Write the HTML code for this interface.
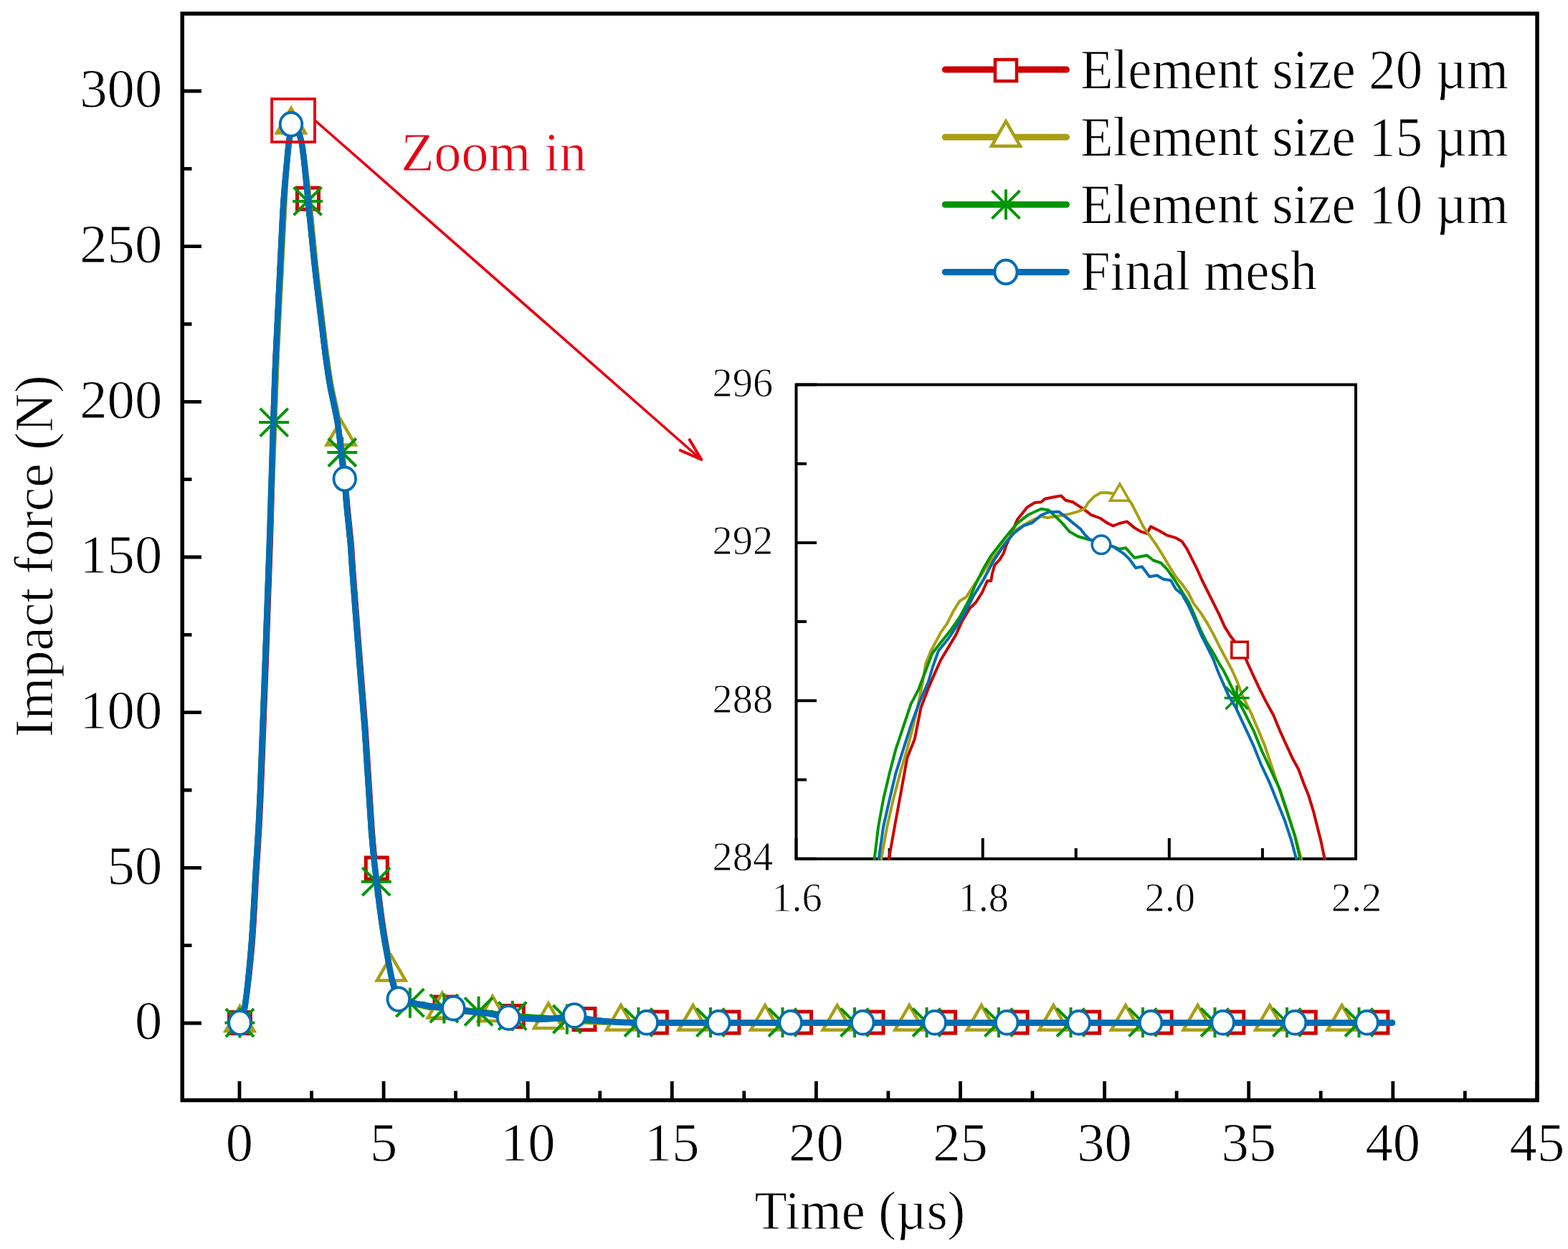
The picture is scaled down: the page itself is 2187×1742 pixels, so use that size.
<!DOCTYPE html><html><head><meta charset="utf-8"><title>Impact force vs time</title><style>html,body{margin:0;padding:0;background:#fff;}svg{display:block;}</style></head><body>
<svg width="2187" height="1742" viewBox="0 0 2187 1742" font-family="'Liberation Serif','Times New Roman',serif">
<style>text{stroke:#fff;stroke-width:0.9px;}</style>
<rect x="0" y="0" width="2187" height="1742" fill="#fff"/>
<defs><clipPath id="cm"><rect x="257" y="22" width="1884" height="1510"/></clipPath><clipPath id="ci"><rect x="1112.5" y="538.5" width="776.5" height="661"/></clipPath></defs>
<path clip-path="url(#cm)" fill="none" stroke-linejoin="round" stroke-linecap="round" d="M334.5,1426.5 C335.7,1422.6 338.8,1421.1 341.7,1403.0 C344.6,1384.9 349.0,1348.5 351.6,1317.8 C354.2,1287.1 355.4,1255.1 357.5,1218.8 C359.6,1182.5 360.9,1176.5 364.1,1100.0 C367.3,1023.5 374.0,845.2 376.8,760.0 C379.6,674.8 379.9,633.2 381.2,589.0 C382.5,544.8 383.2,527.9 384.7,494.7 C386.1,461.5 388.1,424.8 389.9,389.8 C391.6,354.8 393.5,311.9 395.2,284.9 C396.9,257.9 398.6,243.5 400.0,228.0 C401.4,212.5 402.4,200.5 403.9,192.0 C405.4,183.5 407.1,178.8 409.0,177.0 C410.9,175.2 412.9,176.8 415.0,181.5 C417.1,186.2 419.2,188.6 421.7,205.0 C424.2,221.4 426.9,252.6 429.8,280.2 C432.7,307.8 435.6,340.3 438.9,370.4 C442.2,400.5 447.3,440.3 449.7,460.6 C452.1,480.9 451.8,479.4 453.5,492.0 C455.2,504.6 457.1,519.3 460.0,535.9 C462.9,552.5 468.1,573.1 471.2,591.7 C474.3,610.3 477.0,634.9 478.7,647.6 C480.4,660.3 480.6,658.7 481.5,668.0 C482.4,677.3 482.9,688.3 484.3,703.5 C485.7,718.7 488.5,743.2 489.9,759.3 C491.3,775.4 490.9,776.6 492.7,800.0 C494.4,823.4 497.6,863.7 500.4,899.7 C503.2,935.7 506.6,972.8 509.7,1016.1 C512.8,1059.5 516.3,1124.8 519.0,1159.8 C521.7,1194.8 523.4,1204.7 525.8,1225.8 C528.2,1246.9 530.9,1268.7 533.4,1286.4 C535.9,1304.1 538.5,1317.9 541.0,1331.8 C543.5,1345.7 546.0,1359.7 548.6,1369.7 C551.2,1379.7 549.6,1386.6 556.5,1392.0 C563.4,1397.4 579.2,1399.8 590.0,1402.0 C600.8,1404.2 607.7,1403.3 621.0,1405.0 C634.3,1406.7 654.3,1409.9 670.0,1412.0 C685.7,1414.1 699.6,1416.2 715.4,1417.5 C731.2,1418.8 748.4,1419.3 765.0,1420.0 C781.6,1420.7 799.2,1420.6 815.0,1421.5 C830.8,1422.4 843.3,1424.7 860.0,1425.5 C876.7,1426.3 892.1,1426.3 915.4,1426.5 C938.7,1426.7 828.9,1426.5 1000.0,1426.5 C1171.1,1426.5 1785.0,1426.5 1942.0,1426.5" stroke="#CC0000" stroke-width="8"/>
<rect x="319.5" y="1411.5" width="30.0" height="30.0" fill="#fff" stroke="#CC0000" stroke-width="5"/>
<rect x="414.5" y="262.0" width="30.0" height="30.0" fill="#fff" stroke="#CC0000" stroke-width="5"/>
<rect x="510.3" y="1196.0" width="30.0" height="30.0" fill="#fff" stroke="#CC0000" stroke-width="5"/>
<rect x="606.0" y="1390.0" width="30.0" height="30.0" fill="#fff" stroke="#CC0000" stroke-width="5"/>
<rect x="700.4" y="1402.5" width="30.0" height="30.0" fill="#fff" stroke="#CC0000" stroke-width="5"/>
<rect x="800.0" y="1406.5" width="30.0" height="30.0" fill="#fff" stroke="#CC0000" stroke-width="5"/>
<rect x="900.4" y="1411.0" width="30.0" height="30.0" fill="#fff" stroke="#CC0000" stroke-width="5"/>
<rect x="1000.9" y="1411.0" width="30.0" height="30.0" fill="#fff" stroke="#CC0000" stroke-width="5"/>
<rect x="1101.5" y="1411.0" width="30.0" height="30.0" fill="#fff" stroke="#CC0000" stroke-width="5"/>
<rect x="1202.0" y="1411.0" width="30.0" height="30.0" fill="#fff" stroke="#CC0000" stroke-width="5"/>
<rect x="1302.6" y="1411.0" width="30.0" height="30.0" fill="#fff" stroke="#CC0000" stroke-width="5"/>
<rect x="1403.2" y="1411.0" width="30.0" height="30.0" fill="#fff" stroke="#CC0000" stroke-width="5"/>
<rect x="1503.7" y="1411.0" width="30.0" height="30.0" fill="#fff" stroke="#CC0000" stroke-width="5"/>
<rect x="1604.2" y="1411.0" width="30.0" height="30.0" fill="#fff" stroke="#CC0000" stroke-width="5"/>
<rect x="1704.8" y="1411.0" width="30.0" height="30.0" fill="#fff" stroke="#CC0000" stroke-width="5"/>
<rect x="1805.3" y="1411.0" width="30.0" height="30.0" fill="#fff" stroke="#CC0000" stroke-width="5"/>
<rect x="1905.9" y="1411.0" width="30.0" height="30.0" fill="#fff" stroke="#CC0000" stroke-width="5"/>
<path clip-path="url(#cm)" fill="none" stroke-linejoin="round" stroke-linecap="round" d="M334.5,1426.5 C335.7,1422.6 339.0,1421.1 341.7,1403.0 C344.4,1384.9 348.1,1348.5 350.6,1317.8 C353.1,1287.1 354.4,1255.1 356.5,1218.8 C358.6,1182.5 359.9,1176.5 363.1,1100.0 C366.3,1023.5 372.5,845.2 375.8,760.0 C379.1,674.8 381.0,633.2 382.7,589.0 C384.4,544.8 384.8,527.9 386.2,494.7 C387.6,461.5 389.6,424.8 391.4,389.8 C393.1,354.8 395.3,311.9 396.7,284.9 C398.1,257.9 398.8,243.5 400.0,228.0 C401.2,212.5 402.4,200.5 403.9,192.0 C405.4,183.5 407.1,178.8 409.0,177.0 C410.9,175.2 412.9,176.8 415.0,181.5 C417.1,186.2 419.0,188.6 421.7,205.0 C424.4,221.4 428.2,252.6 431.3,280.2 C434.4,307.8 437.1,340.3 440.4,370.4 C443.7,400.5 448.8,440.3 451.2,460.6 C453.6,480.9 453.3,479.4 455.0,492.0 C456.7,504.6 458.6,519.3 461.5,535.9 C464.4,552.5 469.8,573.1 472.7,591.7 C475.6,610.3 477.6,634.9 479.2,647.6 C480.8,660.3 481.3,658.7 482.0,668.0 C482.7,677.3 482.2,688.3 483.3,703.5 C484.4,718.7 487.5,743.2 488.9,759.3 C490.3,775.4 489.9,776.6 491.7,800.0 C493.4,823.4 496.6,863.7 499.4,899.7 C502.2,935.7 505.6,972.8 508.7,1016.1 C511.8,1059.5 515.3,1124.8 518.0,1159.8 C520.7,1194.8 522.4,1204.7 524.8,1225.8 C527.2,1246.9 529.9,1268.7 532.4,1286.4 C534.9,1304.1 537.5,1317.9 540.0,1331.8 C542.5,1345.7 545.3,1361.7 547.6,1369.7 C549.9,1377.7 548.6,1375.0 554.0,1380.0 C559.4,1385.0 569.5,1395.3 580.0,1400.0 C590.5,1404.7 605.1,1406.2 616.8,1408.0 C628.5,1409.8 638.3,1410.2 650.0,1411.0 C661.7,1411.8 674.5,1411.3 687.0,1412.5 C699.5,1413.7 712.0,1416.3 725.0,1418.0 C738.0,1419.7 750.7,1421.4 764.9,1422.5 C779.1,1423.6 793.1,1423.9 810.0,1424.5 C826.9,1425.1 834.3,1425.7 866.0,1426.0 C897.7,1426.3 820.7,1426.4 1000.0,1426.5 C1179.3,1426.6 1785.0,1426.5 1942.0,1426.5" stroke="#A89E14" stroke-width="8"/>
<path d="M334.5,1403.5 L314.6,1438.0 L354.4,1438.0 Z" fill="#fff" stroke="#A89E14" stroke-width="4.5" stroke-linejoin="miter"/>
<path d="M406.0,151.0 L386.1,185.5 L425.9,185.5 Z" fill="#fff" stroke="#A89E14" stroke-width="4.5" stroke-linejoin="miter"/>
<path d="M475.6,586.0 L455.7,620.5 L495.5,620.5 Z" fill="#fff" stroke="#A89E14" stroke-width="4.5" stroke-linejoin="miter"/>
<path d="M545.7,1333.0 L525.8,1367.5 L565.6,1367.5 Z" fill="#fff" stroke="#A89E14" stroke-width="4.5" stroke-linejoin="miter"/>
<path d="M616.8,1385.0 L596.9,1419.5 L636.7,1419.5 Z" fill="#fff" stroke="#A89E14" stroke-width="4.5" stroke-linejoin="miter"/>
<path d="M687.0,1389.5 L667.1,1424.0 L706.9,1424.0 Z" fill="#fff" stroke="#A89E14" stroke-width="4.5" stroke-linejoin="miter"/>
<path d="M764.9,1399.5 L745.0,1434.0 L784.8,1434.0 Z" fill="#fff" stroke="#A89E14" stroke-width="4.5" stroke-linejoin="miter"/>
<path d="M866.0,1402.0 L846.1,1436.5 L885.9,1436.5 Z" fill="#fff" stroke="#A89E14" stroke-width="4.5" stroke-linejoin="miter"/>
<path d="M966.6,1402.0 L946.6,1436.5 L986.5,1436.5 Z" fill="#fff" stroke="#A89E14" stroke-width="4.5" stroke-linejoin="miter"/>
<path d="M1067.1,1402.0 L1047.2,1436.5 L1087.0,1436.5 Z" fill="#fff" stroke="#A89E14" stroke-width="4.5" stroke-linejoin="miter"/>
<path d="M1167.7,1402.0 L1147.8,1436.5 L1187.6,1436.5 Z" fill="#fff" stroke="#A89E14" stroke-width="4.5" stroke-linejoin="miter"/>
<path d="M1268.2,1402.0 L1248.3,1436.5 L1288.2,1436.5 Z" fill="#fff" stroke="#A89E14" stroke-width="4.5" stroke-linejoin="miter"/>
<path d="M1368.8,1402.0 L1348.9,1436.5 L1388.7,1436.5 Z" fill="#fff" stroke="#A89E14" stroke-width="4.5" stroke-linejoin="miter"/>
<path d="M1469.4,1402.0 L1449.4,1436.5 L1489.3,1436.5 Z" fill="#fff" stroke="#A89E14" stroke-width="4.5" stroke-linejoin="miter"/>
<path d="M1569.9,1402.0 L1550.0,1436.5 L1589.8,1436.5 Z" fill="#fff" stroke="#A89E14" stroke-width="4.5" stroke-linejoin="miter"/>
<path d="M1670.5,1402.0 L1650.6,1436.5 L1690.4,1436.5 Z" fill="#fff" stroke="#A89E14" stroke-width="4.5" stroke-linejoin="miter"/>
<path d="M1771.0,1402.0 L1751.1,1436.5 L1791.0,1436.5 Z" fill="#fff" stroke="#A89E14" stroke-width="4.5" stroke-linejoin="miter"/>
<path d="M1871.6,1402.0 L1851.7,1436.5 L1891.5,1436.5 Z" fill="#fff" stroke="#A89E14" stroke-width="4.5" stroke-linejoin="miter"/>
<path clip-path="url(#cm)" fill="none" stroke-linejoin="round" stroke-linecap="round" d="M334.5,1426.5 C335.7,1422.6 339.0,1421.1 341.7,1403.0 C344.4,1384.9 348.1,1348.5 350.6,1317.8 C353.1,1287.1 354.4,1255.1 356.5,1218.8 C358.6,1182.5 359.9,1176.5 363.1,1100.0 C366.3,1023.5 372.8,845.2 375.8,760.0 C378.8,674.8 379.7,633.2 381.2,589.0 C382.7,544.8 383.2,527.9 384.7,494.7 C386.1,461.5 388.1,424.8 389.9,389.8 C391.6,354.8 393.5,311.9 395.2,284.9 C396.9,257.9 398.6,243.5 400.0,228.0 C401.4,212.5 402.4,200.5 403.9,192.0 C405.4,183.5 407.1,178.8 409.0,177.0 C410.9,175.2 412.9,176.8 415.0,181.5 C417.1,186.2 419.2,188.6 421.7,205.0 C424.2,221.4 426.9,252.6 429.8,280.2 C432.7,307.8 435.6,340.3 438.9,370.4 C442.2,400.5 447.3,440.3 449.7,460.6 C452.1,480.9 451.8,479.4 453.5,492.0 C455.2,504.6 457.1,519.3 460.0,535.9 C462.9,552.5 468.2,573.1 471.2,591.7 C474.1,610.3 476.1,634.9 477.7,647.6 C479.2,660.3 479.6,658.7 480.5,668.0 C481.4,677.3 481.9,688.3 483.3,703.5 C484.7,718.7 487.5,743.2 488.9,759.3 C490.3,775.4 489.9,776.6 491.7,800.0 C493.4,823.4 496.6,863.7 499.4,899.7 C502.2,935.7 505.6,972.8 508.7,1016.1 C511.8,1059.5 515.3,1124.8 518.0,1159.8 C520.7,1194.8 522.4,1204.7 524.8,1225.8 C527.2,1246.9 529.9,1268.7 532.4,1286.4 C534.9,1304.1 537.5,1317.9 540.0,1331.8 C542.5,1345.7 545.0,1359.5 547.6,1369.7 C550.2,1379.9 551.7,1388.2 555.7,1393.0 C559.8,1397.8 565.4,1397.0 571.9,1398.7 C578.4,1400.4 587.1,1401.7 595.0,1403.0 C602.9,1404.3 611.1,1405.5 619.4,1406.5 C627.7,1407.5 637.0,1408.3 645.0,1409.0 C653.0,1409.7 660.1,1410.0 667.6,1410.8 C675.1,1411.6 682.1,1413.0 690.0,1414.0 C697.9,1415.0 704.8,1416.0 714.8,1416.8 C724.8,1417.6 737.3,1418.2 750.0,1419.0 C762.7,1419.8 775.9,1420.6 790.9,1421.5 C805.9,1422.4 823.4,1423.7 840.0,1424.5 C856.6,1425.3 863.8,1426.0 890.5,1426.3 C917.2,1426.6 824.8,1426.5 1000.0,1426.5 C1175.2,1426.5 1785.0,1426.5 1942.0,1426.5" stroke="#009600" stroke-width="8"/>
<path d="M313.5,1426.5 H355.5 M334.5,1405.5 V1447.5 M315.0,1407.0 L354.0,1446.0 M315.0,1446.0 L354.0,1407.0" fill="none" stroke="#009600" stroke-width="4"/>
<path d="M361.2,589.1 H403.2 M382.2,568.1 V610.1 M362.7,569.6 L401.7,608.6 M362.7,608.6 L401.7,569.6" fill="none" stroke="#009600" stroke-width="4"/>
<path d="M408.1,280.7 H450.1 M429.1,259.7 V301.7 M409.6,261.2 L448.6,300.2 M409.6,300.2 L448.6,261.2" fill="none" stroke="#009600" stroke-width="4"/>
<path d="M456.3,631.0 H498.3 M477.3,610.0 V652.0 M457.8,611.5 L496.8,650.5 M457.8,650.5 L496.8,611.5" fill="none" stroke="#009600" stroke-width="4"/>
<path d="M503.8,1229.7 H545.8 M524.8,1208.7 V1250.7 M505.3,1210.2 L544.3,1249.2 M505.3,1249.2 L544.3,1210.2" fill="none" stroke="#009600" stroke-width="4"/>
<path d="M550.9,1398.7 H592.9 M571.9,1377.7 V1419.7 M552.4,1379.2 L591.4,1418.2 M552.4,1418.2 L591.4,1379.2" fill="none" stroke="#009600" stroke-width="4"/>
<path d="M598.4,1406.5 H640.4 M619.4,1385.5 V1427.5 M599.9,1387.0 L638.9,1426.0 M599.9,1426.0 L638.9,1387.0" fill="none" stroke="#009600" stroke-width="4"/>
<path d="M646.6,1410.8 H688.6 M667.6,1389.8 V1431.8 M648.1,1391.3 L687.1,1430.3 M648.1,1430.3 L687.1,1391.3" fill="none" stroke="#009600" stroke-width="4"/>
<path d="M693.8,1416.8 H735.8 M714.8,1395.8 V1437.8 M695.3,1397.3 L734.3,1436.3 M695.3,1436.3 L734.3,1397.3" fill="none" stroke="#009600" stroke-width="4"/>
<path d="M769.9,1421.5 H811.9 M790.9,1400.5 V1442.5 M771.4,1402.0 L810.4,1441.0 M771.4,1441.0 L810.4,1402.0" fill="none" stroke="#009600" stroke-width="4"/>
<path d="M869.5,1426.0 H911.5 M890.5,1405.0 V1447.0 M871.0,1406.5 L910.0,1445.5 M871.0,1445.5 L910.0,1406.5" fill="none" stroke="#009600" stroke-width="4"/>
<path d="M970.0,1426.0 H1012.0 M991.0,1405.0 V1447.0 M971.5,1406.5 L1010.5,1445.5 M971.5,1445.5 L1010.5,1406.5" fill="none" stroke="#009600" stroke-width="4"/>
<path d="M1070.5,1426.0 H1112.5 M1091.5,1405.0 V1447.0 M1072.0,1406.5 L1111.0,1445.5 M1072.0,1445.5 L1111.0,1406.5" fill="none" stroke="#009600" stroke-width="4"/>
<path d="M1171.0,1426.0 H1213.0 M1192.0,1405.0 V1447.0 M1172.5,1406.5 L1211.5,1445.5 M1172.5,1445.5 L1211.5,1406.5" fill="none" stroke="#009600" stroke-width="4"/>
<path d="M1271.5,1426.0 H1313.5 M1292.5,1405.0 V1447.0 M1273.0,1406.5 L1312.0,1445.5 M1273.0,1445.5 L1312.0,1406.5" fill="none" stroke="#009600" stroke-width="4"/>
<path d="M1372.0,1426.0 H1414.0 M1393.0,1405.0 V1447.0 M1373.5,1406.5 L1412.5,1445.5 M1373.5,1445.5 L1412.5,1406.5" fill="none" stroke="#009600" stroke-width="4"/>
<path d="M1472.5,1426.0 H1514.5 M1493.5,1405.0 V1447.0 M1474.0,1406.5 L1513.0,1445.5 M1474.0,1445.5 L1513.0,1406.5" fill="none" stroke="#009600" stroke-width="4"/>
<path d="M1573.0,1426.0 H1615.0 M1594.0,1405.0 V1447.0 M1574.5,1406.5 L1613.5,1445.5 M1574.5,1445.5 L1613.5,1406.5" fill="none" stroke="#009600" stroke-width="4"/>
<path d="M1673.5,1426.0 H1715.5 M1694.5,1405.0 V1447.0 M1675.0,1406.5 L1714.0,1445.5 M1675.0,1445.5 L1714.0,1406.5" fill="none" stroke="#009600" stroke-width="4"/>
<path d="M1774.0,1426.0 H1816.0 M1795.0,1405.0 V1447.0 M1775.5,1406.5 L1814.5,1445.5 M1775.5,1445.5 L1814.5,1406.5" fill="none" stroke="#009600" stroke-width="4"/>
<path d="M1874.5,1426.0 H1916.5 M1895.5,1405.0 V1447.0 M1876.0,1406.5 L1915.0,1445.5 M1876.0,1445.5 L1915.0,1406.5" fill="none" stroke="#009600" stroke-width="4"/>
<path clip-path="url(#cm)" fill="none" stroke-linejoin="round" stroke-linecap="round" d="M334.5,1426.5 C335.7,1422.6 339.0,1421.1 341.7,1403.0 C344.4,1384.9 348.1,1348.5 350.6,1317.8 C353.1,1287.1 354.4,1255.1 356.5,1218.8 C358.6,1182.5 359.9,1176.5 363.1,1100.0 C366.3,1023.5 372.8,845.2 375.8,760.0 C378.8,674.8 379.7,633.2 381.2,589.0 C382.7,544.8 383.2,527.9 384.7,494.7 C386.1,461.5 388.1,424.8 389.9,389.8 C391.6,354.8 393.5,311.9 395.2,284.9 C396.9,257.9 398.6,243.5 400.0,228.0 C401.4,212.5 402.4,200.5 403.9,192.0 C405.4,183.5 407.1,178.8 409.0,177.0 C410.9,175.2 412.9,176.8 415.0,181.5 C417.1,186.2 419.2,188.6 421.7,205.0 C424.2,221.4 426.9,252.6 429.8,280.2 C432.7,307.8 435.6,340.3 438.9,370.4 C442.2,400.5 447.3,440.3 449.7,460.6 C452.1,480.9 451.8,479.4 453.5,492.0 C455.2,504.6 457.1,519.3 460.0,535.9 C462.9,552.5 468.2,573.1 471.2,591.7 C474.1,610.3 476.1,634.9 477.7,647.6 C479.2,660.3 479.6,658.7 480.5,668.0 C481.4,677.3 481.9,688.3 483.3,703.5 C484.7,718.7 487.5,743.2 488.9,759.3 C490.3,775.4 489.9,776.6 491.7,800.0 C493.4,823.4 496.6,863.7 499.4,899.7 C502.2,935.7 505.6,972.8 508.7,1016.1 C511.8,1059.5 515.3,1124.8 518.0,1159.8 C520.7,1194.8 522.4,1204.7 524.8,1225.8 C527.2,1246.9 529.9,1268.7 532.4,1286.4 C534.9,1304.1 537.5,1317.9 540.0,1331.8 C542.5,1345.7 545.0,1359.5 547.6,1369.7 C550.2,1379.9 551.3,1388.0 555.7,1392.8 C560.1,1397.6 568.0,1396.8 574.2,1398.3 C580.4,1399.8 586.6,1400.9 592.8,1402.0 C599.0,1403.1 604.6,1404.1 611.3,1404.8 C617.9,1405.5 625.9,1405.1 632.7,1406.0 C639.5,1406.9 644.9,1409.3 652.1,1410.4 C659.4,1411.5 669.1,1411.8 676.2,1412.8 C683.3,1413.8 689.3,1415.4 694.8,1416.5 C700.3,1417.6 702.8,1418.8 709.0,1419.5 C715.2,1420.2 723.4,1420.3 731.9,1420.6 C740.4,1420.9 751.7,1421.7 759.7,1421.5 C767.7,1421.3 773.1,1420.2 780.0,1419.5 C786.9,1418.8 793.5,1416.6 801.0,1417.0 C808.5,1417.4 816.1,1420.7 824.7,1422.0 C833.3,1423.3 841.7,1424.2 852.5,1425.0 C863.3,1425.8 865.0,1426.2 889.6,1426.5 C914.2,1426.8 824.6,1426.5 1000.0,1426.5 C1175.4,1426.5 1785.0,1426.5 1942.0,1426.5" stroke="#006CB4" stroke-width="8.5"/>
<ellipse cx="334.5" cy="1426.5" rx="15.3" ry="16.3" fill="#fff" stroke="#006CB4" stroke-width="3.8"/>
<ellipse cx="406.0" cy="173.3" rx="15.3" ry="16.3" fill="#fff" stroke="#006CB4" stroke-width="3.8"/>
<ellipse cx="480.8" cy="667.8" rx="15.3" ry="16.3" fill="#fff" stroke="#006CB4" stroke-width="3.8"/>
<ellipse cx="555.8" cy="1393.6" rx="15.3" ry="16.3" fill="#fff" stroke="#006CB4" stroke-width="3.8"/>
<ellipse cx="632.5" cy="1406.2" rx="15.3" ry="16.3" fill="#fff" stroke="#006CB4" stroke-width="3.8"/>
<ellipse cx="709.2" cy="1419.5" rx="15.3" ry="16.3" fill="#fff" stroke="#006CB4" stroke-width="3.8"/>
<ellipse cx="801.1" cy="1416.4" rx="15.3" ry="16.3" fill="#fff" stroke="#006CB4" stroke-width="3.8"/>
<ellipse cx="901.8" cy="1426.2" rx="15.3" ry="16.3" fill="#fff" stroke="#006CB4" stroke-width="3.8"/>
<ellipse cx="1002.3" cy="1426.2" rx="15.3" ry="16.3" fill="#fff" stroke="#006CB4" stroke-width="3.8"/>
<ellipse cx="1102.7" cy="1426.2" rx="15.3" ry="16.3" fill="#fff" stroke="#006CB4" stroke-width="3.8"/>
<ellipse cx="1203.2" cy="1426.2" rx="15.3" ry="16.3" fill="#fff" stroke="#006CB4" stroke-width="3.8"/>
<ellipse cx="1303.7" cy="1426.2" rx="15.3" ry="16.3" fill="#fff" stroke="#006CB4" stroke-width="3.8"/>
<ellipse cx="1404.2" cy="1426.2" rx="15.3" ry="16.3" fill="#fff" stroke="#006CB4" stroke-width="3.8"/>
<ellipse cx="1504.6" cy="1426.2" rx="15.3" ry="16.3" fill="#fff" stroke="#006CB4" stroke-width="3.8"/>
<ellipse cx="1605.1" cy="1426.2" rx="15.3" ry="16.3" fill="#fff" stroke="#006CB4" stroke-width="3.8"/>
<ellipse cx="1705.6" cy="1426.2" rx="15.3" ry="16.3" fill="#fff" stroke="#006CB4" stroke-width="3.8"/>
<ellipse cx="1806.0" cy="1426.2" rx="15.3" ry="16.3" fill="#fff" stroke="#006CB4" stroke-width="3.8"/>
<ellipse cx="1906.5" cy="1426.2" rx="15.3" ry="16.3" fill="#fff" stroke="#006CB4" stroke-width="3.8"/>
<g stroke="#000" stroke-width="5.5" fill="none">
<rect x="254.25" y="19" width="1889.75" height="1515.5"/>
</g><g stroke="#000" stroke-width="4.8" fill="none">
<path d="M254,1427.0 H281 M254,1210.3 H281 M254,993.7 H281 M254,777.0 H281 M254,560.3 H281 M254,343.7 H281 M254,127.0 H281 M254,1318.7 H267.5 M254,1102.0 H267.5 M254,885.3 H267.5 M254,668.7 H267.5 M254,452.0 H267.5 M254,235.3 H267.5 M334.0,1534.5 V1508 M535.1,1534.5 V1508 M736.2,1534.5 V1508 M937.3,1534.5 V1508 M1138.4,1534.5 V1508 M1339.5,1534.5 V1508 M1540.6,1534.5 V1508 M1741.7,1534.5 V1508 M1942.8,1534.5 V1508 M2143.9,1534.5 V1508 M434.6,1534.5 V1521.5 M635.6,1534.5 V1521.5 M836.8,1534.5 V1521.5 M1037.8,1534.5 V1521.5 M1238.9,1534.5 V1521.5 M1440.0,1534.5 V1521.5 M1641.1,1534.5 V1521.5 M1842.2,1534.5 V1521.5 M2043.3,1534.5 V1521.5"/>
</g>
<g font-size="76.6" fill="#000" text-anchor="end">
<text x="226.2" y="1449.2">0</text>
<text x="226.2" y="1232.5">50</text>
<text x="226.2" y="1015.9">100</text>
<text x="226.2" y="799.2">150</text>
<text x="226.2" y="582.5">200</text>
<text x="226.2" y="365.9">250</text>
<text x="226.2" y="149.2">300</text>
</g>
<g font-size="76.6" fill="#000" text-anchor="middle">
<text x="334.0" y="1618.6">0</text>
<text x="535.1" y="1618.6">5</text>
<text x="736.2" y="1618.6">10</text>
<text x="937.3" y="1618.6">15</text>
<text x="1138.4" y="1618.6">20</text>
<text x="1339.5" y="1618.6">25</text>
<text x="1540.6" y="1618.6">30</text>
<text x="1741.7" y="1618.6">35</text>
<text x="1942.8" y="1618.6">40</text>
<text x="2143.9" y="1618.6">45</text>
</g>
<text x="1052.62" y="1713.80" font-size="76" textLength="293.64" lengthAdjust="spacingAndGlyphs">Time (µs)</text>
<text transform="translate(72.60,1025.60) rotate(-90)" x="-3.01" y="0" font-size="75.5" textLength="505.34" lengthAdjust="spacingAndGlyphs">Impact force (N)</text>
<path d="M1318.3,97.1 H1487.5" stroke="#CC0000" stroke-width="9" stroke-linecap="round"/>
<rect x="1388.0" y="83.1" width="30.0" height="30.0" fill="#fff" stroke="#CC0000" stroke-width="4.5"/>
<text x="1506.96" y="123.10" font-size="77.5" textLength="596.89" lengthAdjust="spacingAndGlyphs">Element size 20 µm</text>
<path d="M1318.3,191.2 H1487.5" stroke="#A89E14" stroke-width="9" stroke-linecap="round"/>
<path d="M1403.0,169.2 L1383.1,203.7 L1422.9,203.7 Z" fill="#fff" stroke="#A89E14" stroke-width="4.5" stroke-linejoin="miter"/>
<text x="1506.96" y="216.83" font-size="77.5" textLength="596.89" lengthAdjust="spacingAndGlyphs">Element size 15 µm</text>
<path d="M1318.3,285.3 H1487.5" stroke="#009600" stroke-width="9" stroke-linecap="round"/>
<path d="M1382.0,285.3 H1424.0 M1403.0,264.3 V306.3 M1383.5,265.8 L1422.5,304.8 M1383.5,304.8 L1422.5,265.8" fill="none" stroke="#009600" stroke-width="4"/>
<text x="1506.96" y="310.56" font-size="77.5" textLength="596.89" lengthAdjust="spacingAndGlyphs">Element size 10 µm</text>
<path d="M1318.3,379.4 H1487.5" stroke="#006CB4" stroke-width="9" stroke-linecap="round"/>
<ellipse cx="1403.0" cy="379.4" rx="15.6" ry="16.6" fill="#fff" stroke="#006CB4" stroke-width="4"/>
<text x="1506.96" y="404.29" font-size="77.5" textLength="329.88" lengthAdjust="spacingAndGlyphs">Final mesh</text>
<rect x="379.1" y="138" width="59.9" height="60" fill="none" stroke="#E60012" stroke-width="3.8"/>
<path d="M440,168.5 L977,640" stroke="#E60012" stroke-width="3.6" fill="none"/>
<path d="M960.9,611.9 L978.4,641 L947.2,627.4" stroke="#E60012" stroke-width="4" fill="none" stroke-linejoin="round" stroke-linecap="butt"/>
<text x="559.21" y="238.20" font-size="77" textLength="258.94" lengthAdjust="spacingAndGlyphs" fill="#E60012">Zoom in</text>
<rect x="1110.5" y="536.5" width="780.5" height="661.3" fill="#fff" stroke="none"/>
<g stroke="#000" stroke-width="4" fill="none">
<rect x="1110.5" y="536.5" width="780.5" height="661.3"/>
<path d="M1110.5,1197.7 H1139 M1110.5,977.3 H1139 M1110.5,756.9 H1139 M1110.5,536.5 H1139 M1110.5,1087.5 H1125 M1110.5,867.1 H1125 M1110.5,646.7 H1125 M1110.5,1197.8 V1169 M1370.7,1197.8 V1169 M1630.8,1197.8 V1169 M1891.0,1197.8 V1169 M1240.6,1197.8 V1183 M1500.7,1197.8 V1183 M1760.9,1197.8 V1183"/>
</g>
<path clip-path="url(#ci)" fill="none" stroke-linejoin="round" stroke-linecap="round" d="M1239.8,1205.0 L1239.8,1198.0 L1247.7,1153.5 L1256.4,1106.3 L1265.2,1057.3 L1275.7,1031.1 L1284.4,987.4 L1289.7,973.4 L1294.8,960.0 L1303.6,939.6 L1312.3,920.3 L1322.8,902.9 L1333.3,885.4 L1342.0,866.2 L1352.5,848.7 L1361.2,840.0 L1370.0,826.0 L1377.0,810.3 L1382.2,810.3 L1384.0,799.8 L1387.5,787.6 L1394.4,780.6 L1399.7,771.8 L1403.2,761.3 L1410.2,745.6 L1418.9,724.7 L1432.9,707.2 L1443.4,701.1 L1452.1,700.2 L1457.3,695.8 L1469.6,693.2 L1480.1,691.5 L1486.2,697.7 L1496.7,700.3 L1507.2,707.3 L1515.9,713.4 L1521.2,717.8 L1535.1,723.0 L1543.9,729.1 L1552.6,733.5 L1561.3,730.0 L1571.8,727.4 L1582.3,736.1 L1591.0,741.3 L1599.8,744.0 L1605.0,734.4 L1617.3,740.5 L1627.7,746.6 L1640.0,750.1 L1648.7,755.3 L1655.7,765.8 L1662.7,779.8 L1669.7,793.8 L1676.7,809.5 L1683.7,823.5 L1692.4,840.9 L1701.1,858.4 L1708.1,874.1 L1716.9,888.1 L1721.2,893.4 L1729.1,906.5 L1737.8,919.6 L1744.8,935.0 L1755.3,957.7 L1765.8,978.6 L1776.3,997.8 L1785.0,1018.8 L1793.7,1038.0 L1802.5,1057.2 L1811.2,1073.0 L1818.2,1092.2 L1825.2,1109.6 L1832.2,1132.4 L1837.4,1153.3 L1842.7,1174.3 L1848.0,1200.0 L1849.0,1206.0" stroke="#CC0000" stroke-width="4.0"/>
<rect x="1717.8" y="895.2" width="22.5" height="22.5" fill="#fff" stroke="#CC0000" stroke-width="3.5"/>
<path clip-path="url(#ci)" fill="none" stroke-linejoin="round" stroke-linecap="round" d="M1228.5,1205.0 L1229.3,1197.2 L1237.2,1153.5 L1245.9,1115.0 L1256.4,1074.8 L1265.2,1045.1 L1273.9,1011.9 L1282.0,976.0 L1287.0,950.0 L1291.3,925.6 L1298.3,908.1 L1312.3,881.9 L1321.0,869.7 L1329.8,852.2 L1338.5,838.2 L1347.3,833.0 L1357.7,817.3 L1370.0,799.8 L1382.2,782.3 L1399.7,759.6 L1417.2,738.6 L1434.6,728.1 L1452.1,720.3 L1460.8,722.0 L1473.1,720.3 L1491.5,716.9 L1503.7,713.4 L1512.4,709.9 L1517.7,701.2 L1526.4,692.4 L1535.1,687.2 L1545.6,687.2 L1561.9,690.0 L1577.1,700.3 L1585.8,716.9 L1594.5,734.4 L1603.3,746.6 L1612.0,758.8 L1620.8,772.8 L1631.2,790.3 L1640.0,804.3 L1648.7,814.7 L1657.5,827.0 L1664.4,840.9 L1674.9,854.9 L1683.7,868.9 L1692.4,884.6 L1701.1,902.1 L1709.9,918.5 L1718.6,935.0 L1725.6,950.7 L1732.6,969.9 L1744.8,994.3 L1755.3,1018.8 L1764.0,1039.8 L1772.8,1066.0 L1781.5,1092.2 L1790.2,1118.4 L1799.0,1144.6 L1807.7,1170.8 L1815.6,1200.0 L1817.0,1206.0" stroke="#A89E14" stroke-width="4.0"/>
<path d="M1561.9,674.9 L1548.4,698.3 L1575.4,698.3 Z" fill="#fff" stroke="#A89E14" stroke-width="3.5" stroke-linejoin="miter"/>
<path clip-path="url(#ci)" fill="none" stroke-linejoin="round" stroke-linecap="round" d="M1218.5,1205.0 L1219.7,1197.2 L1225.0,1153.5 L1232.0,1115.0 L1240.7,1078.3 L1249.4,1045.1 L1259.9,1013.6 L1270.4,982.2 L1280.9,962.0 L1290.5,937.0 L1300.1,911.6 L1312.3,895.9 L1326.3,878.4 L1338.5,860.9 L1350.8,838.2 L1361.2,813.8 L1371.7,792.8 L1382.2,775.3 L1394.4,759.6 L1408.4,742.1 L1418.9,729.9 L1434.6,717.7 L1452.1,709.8 L1462.6,711.5 L1474.0,722.1 L1482.7,730.9 L1491.5,741.3 L1503.7,748.3 L1519.4,752.7 L1536.0,757.0 L1552.6,762.3 L1561.3,765.8 L1570.1,764.1 L1582.3,778.0 L1599.8,774.5 L1608.5,781.5 L1619.0,785.0 L1627.7,793.8 L1636.5,806.0 L1648.7,825.2 L1657.5,839.2 L1666.2,858.4 L1674.9,879.4 L1683.7,896.9 L1692.4,910.8 L1701.1,926.6 L1706.4,935.0 L1715.1,952.4 L1725.1,973.4 L1736.1,994.3 L1748.3,1018.8 L1760.5,1048.5 L1772.8,1074.7 L1785.0,1100.9 L1795.5,1132.4 L1806.0,1165.5 L1813.8,1200.0 L1815.0,1206.0" stroke="#009600" stroke-width="4.0"/>
<path d="M1707.6,973.4 H1742.6 M1725.1,955.9 V990.9 M1709.6,957.9 L1740.6,988.9 M1709.6,988.9 L1740.6,957.9" fill="none" stroke="#009600" stroke-width="3.5"/>
<path clip-path="url(#ci)" fill="none" stroke-linejoin="round" stroke-linecap="round" d="M1224.8,1205.0 L1225.8,1197.2 L1232.0,1153.5 L1240.7,1115.0 L1249.4,1078.3 L1259.9,1045.1 L1270.4,1011.9 L1282.7,978.7 L1294.9,950.7 L1301.0,930.0 L1308.8,908.1 L1322.8,890.6 L1336.8,869.7 L1347.3,852.2 L1357.7,831.2 L1371.7,808.5 L1385.7,782.3 L1399.7,761.3 L1413.7,743.9 L1427.6,733.4 L1439.9,729.0 L1452.1,718.5 L1462.6,714.2 L1477.0,713.8 L1488.0,722.1 L1498.4,730.9 L1507.2,737.9 L1512.4,744.8 L1519.4,751.8 L1536.0,759.7 L1552.6,762.3 L1568.3,772.8 L1575.3,779.8 L1584.1,792.0 L1592.8,790.3 L1603.3,804.3 L1613.8,802.5 L1622.5,807.7 L1633.0,809.5 L1640.0,821.7 L1648.7,828.7 L1657.5,844.4 L1666.2,863.7 L1674.9,884.6 L1683.7,902.1 L1692.4,919.6 L1699.4,938.0 L1713.4,969.9 L1723.9,987.4 L1736.1,1013.6 L1748.3,1039.8 L1758.8,1066.0 L1771.0,1092.2 L1781.5,1118.4 L1792.0,1144.6 L1800.7,1170.8 L1808.6,1200.0 L1810.0,1206.0" stroke="#006CB4" stroke-width="4.0"/>
<circle cx="1536.0" cy="759.7" r="12.8" fill="#fff" stroke="#006CB4" stroke-width="3.5"/>
<g font-size="56.5" text-anchor="end">
<text x="1078.2" y="1213.9">284</text>
<text x="1078.2" y="993.5">288</text>
<text x="1078.2" y="773.1">292</text>
<text x="1078.2" y="552.7">296</text>
</g>
<g font-size="56.5" text-anchor="middle">
<text x="1111.5" y="1270.5">1.6</text>
<text x="1371.7" y="1270.5">1.8</text>
<text x="1631.8" y="1270.5">2.0</text>
<text x="1892.0" y="1270.5">2.2</text>
</g>
</svg></body></html>
